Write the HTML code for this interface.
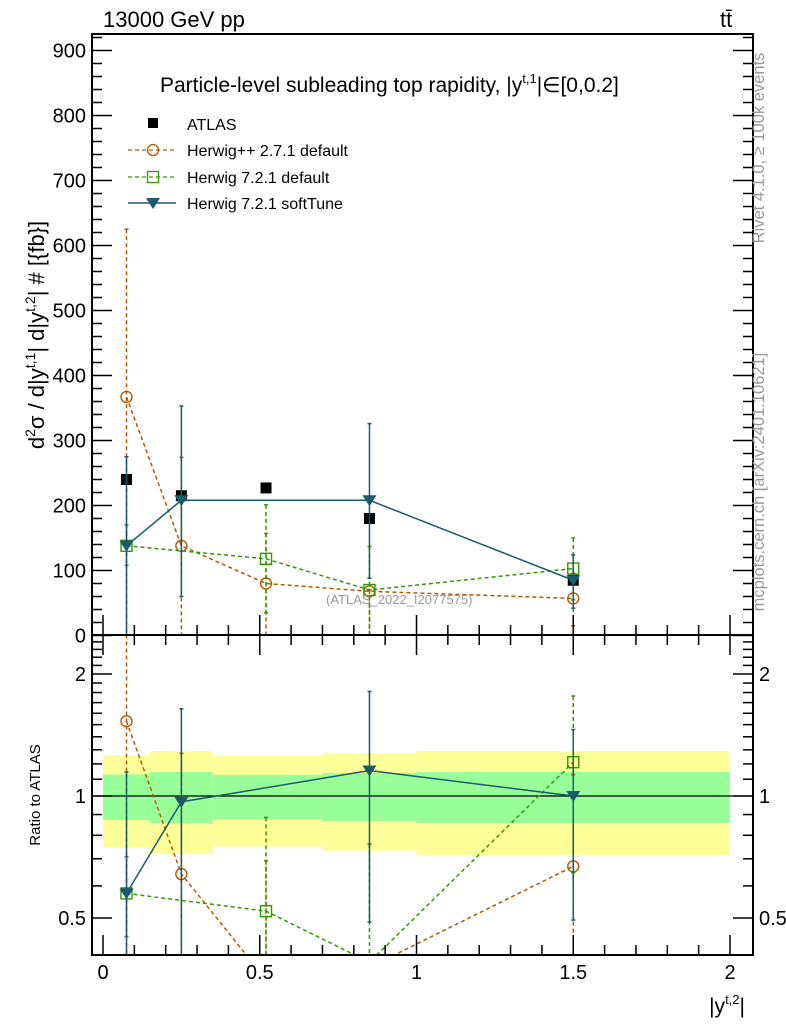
<!DOCTYPE html>
<html><head><meta charset="utf-8"><style>
html,body{margin:0;padding:0;background:#fff;overflow:hidden;width:786px;height:1024px;}
svg{display:block;}
svg text{font-family:"Liberation Sans",sans-serif;}
</style></head><body>
<svg id="c" width="786" height="1024" xmlns="http://www.w3.org/2000/svg">
<g id="bands"></g>
<g id="marks"></g>
<g id="axes"></g>
<text x="103" y="27" font-size="22">13000 GeV pp</text>
<text x="720" y="27" font-size="22">tt̄</text>
<text x="160" y="92" font-size="21">Particle-level subleading top rapidity, |y<tspan font-size="13" dy="-9">t,1</tspan><tspan dy="9">|∈[0,0.2]</tspan></text>
<g>
<rect x="148" y="118" width="10" height="10" fill="#000"/>
<text x="187" y="130" font-size="16">ATLAS</text>
<line x1="128" y1="150" x2="176" y2="150" stroke="#b35900" stroke-dasharray="4,3" stroke-width="1.3"/>
<circle cx="153" cy="150" r="5.5" fill="none" stroke="#b35900" stroke-width="1.3"/>
<text x="187" y="156" font-size="16">Herwig++ 2.7.1 default</text>
<line x1="128" y1="177" x2="176" y2="177" stroke="#339900" stroke-dasharray="4,3" stroke-width="1.3"/>
<rect x="147.5" y="171.5" width="11" height="11" fill="none" stroke="#339900" stroke-width="1.3"/>
<text x="187" y="183" font-size="16">Herwig 7.2.1 default</text>
<line x1="128" y1="203" x2="176" y2="203" stroke="#1a5a6a" stroke-width="1.5"/>
<path d="M146,198 L160,198 L153,209 Z" fill="#1a5a6a"/>
<text x="187" y="209" font-size="16">Herwig 7.2.1 softTune</text>
</g>
<text x="326" y="604" font-size="13" fill="#999">(ATLAS_2022_I2077575)</text>
<text transform="translate(44,335) rotate(-90)" font-size="22" text-anchor="middle">d<tspan font-size="14" dy="-9">2</tspan><tspan dy="9">σ / d|y</tspan><tspan font-size="14" dy="-9">t,1</tspan><tspan dy="9">| d|y</tspan><tspan font-size="14" dy="-9">t,2</tspan><tspan dy="9">| # [{fb}]</tspan></text>
<text transform="translate(40,795) rotate(-90)" font-size="15" text-anchor="middle">Ratio to ATLAS</text>
<text x="745" y="1013" font-size="21" text-anchor="end">|y<tspan font-size="13" dy="-9">t,2</tspan><tspan dy="9">|</tspan></text>
<text transform="translate(764,148) rotate(-90)" font-size="16.5" fill="#999" text-anchor="middle">Rivet 4.1.0, ≥ 100k events</text>
<text transform="translate(764,482) rotate(-90)" font-size="16.5" fill="#999" text-anchor="middle">mcplots.cern.ch [arXiv:2401.10621]</text>
</svg>
<script>
const xs=[0.075,0.25,0.52,0.85,1.5];
const atlas=[240,215,227,180,85];
const hpp=[367,138,80,68,57];
const hppUp=[625,274,157,70,96];
const hppDn=[-50,-50,-50,-50,15];
const h7=[138,null,118,70,103];
const h7Up=[170,null,201,137,150];
const h7Dn=[108,null,35,-50,55];
const soft=[138,208,null,208,85];
const softUp=[275,353,null,326,124];
const softDn=[-50,60,null,88,42];
const binEdges=[0,0.15,0.35,0.7,1.0,2.0];
const yelUp=[1.26,1.29,1.255,1.277,1.29];
const yelDn=[0.745,0.72,0.75,0.733,0.715];
const grnUp=[1.13,1.146,1.128,1.14,1.146];
const grnDn=[0.873,0.858,0.877,0.868,0.858];
const mainTicks=[0,100,200,300,400,500,600,700,800,900];
const xTicks=[0,0.5,1,1.5,2];
const xTickLabels=["0","0.5","1","1.5","2"];
const rTicks=[0.5,1,2];
const rTickLabels=["0.5","1","2"];

const NS="http://www.w3.org/2000/svg";
const L=92,R=753,T=34,MB=635,RB=955;
const X=v=>103+v*313.5;
const Y=v=>635.5-v*0.65;
const YR=r=>796-122*Math.log2(r);
const RMIN=Math.pow(2,-(RB-796)/122),RMAX=Math.pow(2,(796-MB)/122);
function el(tag,a,p){const e=document.createElementNS(NS,tag);for(const k in a)e.setAttribute(k,a[k]);(p||document.getElementById('marks')).appendChild(e);return e;}
const bands=document.getElementById('bands'),axes=document.getElementById('axes');
const defs=el('defs',{},document.getElementById('c'));
const c1=el('clipPath',{id:'cm'},defs);el('rect',{x:L,y:T,width:R-L,height:MB-T},c1);
const c2=el('clipPath',{id:'cr'},defs);el('rect',{x:L,y:MB,width:R-L,height:RB-MB},c2);
const gm=el('g',{'clip-path':'url(#cm)'});


const gr=el('g',{'clip-path':'url(#cr)'});


for(let i=0;i<5;i++){
 const x1=X(binEdges[i]),x2=X(binEdges[i+1]);
 const y=el('rect',{x:x1,y:YR(yelUp[i]),width:x2-x1,height:YR(yelDn[i])-YR(yelUp[i]),fill:'#ffff99'},bands);
 
 
 const g=el('rect',{x:x1,y:YR(grnUp[i]),width:x2-x1,height:YR(grnDn[i])-YR(grnUp[i]),fill:'#99ff99'},bands);
 
 
}
el('line',{x1:L,x2:R,y1:YR(1),y2:YR(1),stroke:'#000','stroke-width':1.3},gr);
function series(vals,up,dn,color,dash,marker,name){
 const idx=vals.map((v,i)=>i).filter(i=>vals[i]!==null);
 [[gm,Y,v=>v,v=>v],[gr,YR,(v,i)=>v/atlas[i],(v,i)=>Math.max(v,0.01)/atlas[i]]].forEach(([g,fy,fv,fe])=>{
  const pts=idx.map(i=>X(xs[i])+','+fy(fv(vals[i],i))).join(' ');
  const pl=el('polyline',{points:pts,fill:'none',stroke:color,'stroke-width':1.5,'stroke-dasharray':dash},g);
  
  
  idx.forEach(i=>{
   const x=X(xs[i]);
   const yu=fy(fe(up[i],i)),yd=fy(fe(dn[i],i)),yc=fy(fv(vals[i],i));
   const eb=el('line',{x1:x,x2:x,y1:yu,y2:yd,stroke:color,'stroke-width':1.5,'stroke-dasharray':dash},g);
   
   
   el('line',{x1:x-2,x2:x+2,y1:yu,y2:yu,stroke:color,'stroke-width':1.5},g);
   if(dn[i]>0)el('line',{x1:x-2,x2:x+2,y1:yd,y2:yd,stroke:color,'stroke-width':1.5},g);
   let m;
   if(marker==='circle')m=el('circle',{cx:x,cy:yc,r:5.5,fill:'none',stroke:color,'stroke-width':1.4},g);
   else if(marker==='square')m=el('rect',{x:x-5.5,y:yc-5.5,width:11,height:11,fill:'none',stroke:color,'stroke-width':1.4},g);
   else m=el('path',{d:`M${x-7},${yc-5} L${x+7},${yc-5} L${x},${yc+6} Z`,fill:color},g);
   
   
  });
 });
}
xs.forEach((x,i)=>{const m=el('rect',{x:X(x)-5.5,y:Y(atlas[i])-5.5,width:11,height:11,fill:'#000'},gm);
 
 });
series(hpp,hppUp,hppDn,'#b35900','4,3','circle','herwigpp');
series(h7,h7Up,h7Dn,'#339900','4,3','square','herwig721');
series(soft,softUp,softDn,'#1a5a6a','none','tri','softtune');
el('rect',{x:L,y:T,width:R-L,height:MB-T,fill:'none',stroke:'#000','stroke-width':2},axes);
el('rect',{x:L,y:MB,width:R-L,height:RB-MB,fill:'none',stroke:'#000','stroke-width':2},axes);
function tk(x1,y1,x2,y2){el('line',{x1,y1,x2,y2,stroke:'#000','stroke-width':1.5},axes);}
for(let v=0;v<=920;v+=20){const y=Y(v);const len=v%100===0?20:10;tk(L,y,L+len,y);tk(R,y,R-len,y);}
mainTicks.forEach(v=>{const t=el('text',{x:L-6,y:Y(v)+7,'font-size':20,'text-anchor':'end'},axes);t.textContent=v;
 
 });
for(let i=0;i<=20;i++){const v=i/10,x=X(v);const len=i%5===0?20:10;
 tk(x,MB,x,MB-len);tk(x,MB,x,MB+len);tk(x,RB,x,RB-len);}
xTicks.forEach((v,i)=>{const t=el('text',{x:X(v),y:RB+24,'font-size':20,'text-anchor':'middle'},axes);t.textContent=xTickLabels[i];
 
 });
[0.5,1,2].forEach(v=>{tk(L,YR(v),L+20,YR(v));tk(R,YR(v),R-20,YR(v));});
[0.6,0.7,0.8,0.9,1.1,1.2,1.3,1.4,1.5,1.6,1.7,1.8,1.9,2.1,2.2,2.3,2.4].forEach(v=>{if(v>RMIN&&v<RMAX){tk(L,YR(v),L+10,YR(v));tk(R,YR(v),R-10,YR(v));}});
rTicks.forEach((v,i)=>{[[L-6,'end'],[R+6,'start']].forEach(([x,a])=>{const t=el('text',{x,y:YR(v)+7,'font-size':20,'text-anchor':a},axes);t.textContent=rTickLabels[i];
 
 });});
</script>
</body></html>
